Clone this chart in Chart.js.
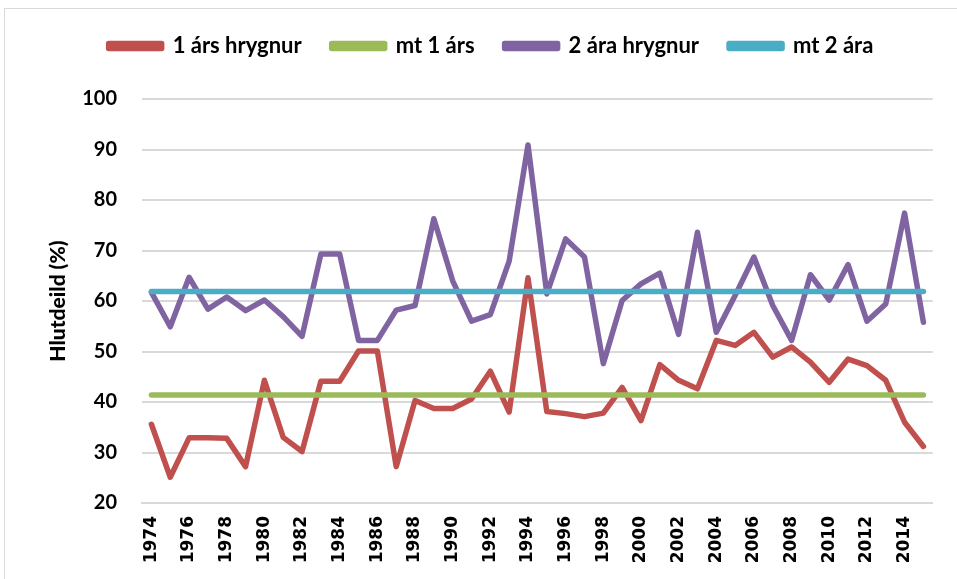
<!DOCTYPE html>
<html>
<head>
<meta charset="utf-8">
<script src="https://cdn.jsdelivr.net/npm/chart.js@4.4.1/dist/chart.umd.min.js"></script>
<style>
  html, body { margin: 0; padding: 0; background: #fff; overflow: hidden; }
  #wrap { position: relative; width: 957px; height: 579px; }
  #frame { position: absolute; left: 4px; top: 8px; width: 1000px; height: 700px;
           border-left: 1px solid #d9d9d9; border-top: 1px solid #d9d9d9; pointer-events: none; }
  canvas { position: absolute; left: 0; top: 0; }
</style>
</head>
<body>
<div id="wrap">
  <div id="frame"></div>
  <canvas id="c" width="957" height="579"></canvas>
</div>
<script>
const years = ["1974","1975","1976","1977","1978","1979","1980","1981","1982","1983","1984","1985","1986","1987",
  "1988","1989","1990","1991","1992","1993","1994","1995","1996","1997","1998","1999","2000","2001",
  "2002","2003","2004","2005","2006","2007","2008","2009","2010","2011","2012","2013","2014","2015"];

const oneYear = [35.6,25.1,32.9,32.9,32.8,27.2,44.3,33.0,30.2,44.1,44.1,50.1,50.1,27.2,
  40.3,38.7,38.7,40.6,46.1,38.0,64.6,38.1,37.7,37.1,37.8,42.9,36.3,47.4,
  44.3,42.6,52.2,51.2,53.8,48.9,50.9,47.9,43.9,48.5,47.2,44.3,36.0,31.2];

const twoYear = [61.7,54.9,64.7,58.4,60.8,58.1,60.2,56.9,53.0,69.3,69.3,52.2,52.2,58.2,
  59.1,76.3,64.0,56.0,57.3,67.9,90.9,61.4,72.3,68.7,47.6,60.1,63.4,65.5,
  53.4,73.6,53.8,61.1,68.7,59.1,52.2,65.2,60.2,67.2,56.0,59.4,77.4,55.8];

const meanOneYear = 41.4;
const meanTwoYear = 61.9;
const meanOneYearLine = years.map(() => meanOneYear);
const meanTwoYearLine = years.map(() => meanTwoYear);

const seriesNames = ["1 árs hrygnur", "mt 1 árs", "2 ára hrygnur", "mt 2 ára"];
const yTicks = [20, 30, 40, 50, 60, 70, 80, 90, 100];

const lineStyle = (color, ord) => ({
  borderColor: color, backgroundColor: color, borderWidth: 5.5,
  pointRadius: 0, pointHoverRadius: 0, tension: 0, fill: false,
  borderCapStyle: 'round', borderJoinStyle: 'round', order: ord
});

const legendSpacer = {
  id: 'legendSpacer',
  beforeInit(chart) {
    const orig = chart.legend.fit;
    chart.legend.fit = function () { orig.call(this); this.height = 94; };
  }
};

new Chart(document.getElementById('c'), {
  type: 'line',
  plugins: [legendSpacer],
  data: {
    labels: years,
    datasets: [
      Object.assign({ label: seriesNames[0], data: oneYear }, lineStyle('#C0504D', 3)),
      Object.assign({ label: seriesNames[1], data: meanOneYearLine }, lineStyle('#9BBB59', 2)),
      Object.assign({ label: seriesNames[2], data: twoYear }, lineStyle('#8064A2', 1)),
      Object.assign({ label: seriesNames[3], data: meanTwoYearLine }, lineStyle('#4BACC6', 0))
    ]
  },
  options: {
    responsive: false,
    animation: false,
    events: [],
    layout: { padding: { left: 42, right: 17, top: 5, bottom: 0 } },
    plugins: {
      tooltip: { enabled: false },
      legend: {
        position: 'top',
        labels: {
          boxWidth: 53, boxHeight: 5, padding: 30,
          color: '#000',
          font: { family: 'Lato', weight: 'bold', size: 22 },
          sort: (a, b) => a.datasetIndex - b.datasetIndex
        }
      }
    },
    scales: {
      x: {
        offset: true,
        afterFit: (s) => { s.height = 76; },
        grid: { display: false, drawTicks: false },
        border: { display: true, color: '#d9d9d9', width: 2 },
        ticks: {
          autoSkip: false, maxRotation: 90, minRotation: 90, padding: 13,
          color: '#000',
          font: { family: 'DejaVu Sans', weight: 'bold', size: 17 },
          callback: function (v, i) { return i % 2 === 0 ? years[i] : ''; }
        }
      },
      y: {
        min: 20, max: 100,
        afterFit: (s) => { s.width = 100; },
        afterBuildTicks: (s) => { s.ticks = yTicks.map(v => ({ value: v })); },
        grid: { color: '#d9d9d9', lineWidth: 2, drawTicks: false },
        border: { display: false },
        ticks: {
          padding: 25, color: '#000',
          font: { family: 'Lato', weight: 'bold', size: 20 }
        },
        title: {
          display: true, text: 'Hlutdeild (%)', color: '#000',
          font: { family: 'Lato', weight: 900, size: 21 },
          padding: { top: 4, bottom: 0 }
        }
      }
    }
  }
});
</script>
</body>
</html>
